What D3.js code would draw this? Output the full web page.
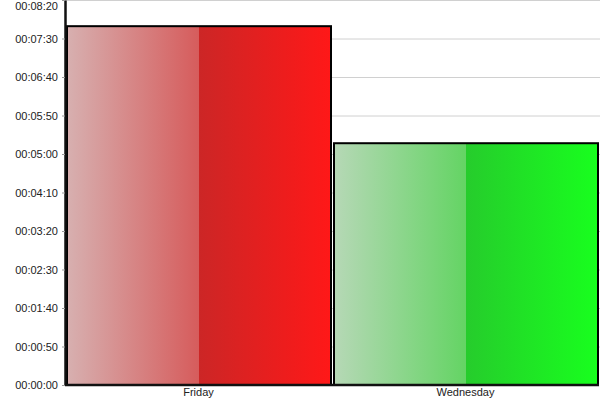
<!DOCTYPE html>
<html>
<head>
  <meta charset="UTF-8">
  <title>Duration by day</title>
  <script src="https://d3js.org/d3.v7.min.js"></script>
  <style>
    body { margin: 0; background: #fff; }
    text { font-family: "Liberation Sans", Arial, sans-serif; font-size: 11px; fill: #222; }
    .grid line { stroke: #d0d0d0; stroke-width: 1; }
    .y.axis .tick line { stroke: #999; }
    .axis path.domain { stroke: #111; stroke-width: 2.5; }
    .bar { stroke: #000; stroke-width: 2; }
  </style>
</head>
<body>
  <div id="chart"></div>
  <script>
    // data (durations in seconds)
    const days = ["Friday", "Wednesday"];
    const durations = [466, 314];
    const tickValues = [0, 50, 100, 150, 200, 250, 300, 350, 400, 450, 500];

    // colour stops per bar: light -> mid | dark -> bright
    const gradientStops = [
      ["rgb(215,176,176)", "rgb(214,92,92)", "rgb(204,38,38)", "rgb(255,24,24)"],
      ["rgb(182,216,182)", "rgb(100,212,100)", "rgb(38,204,44)", "rgb(24,255,30)"]
    ];

    const margin = { top: 0, right: 1, bottom: 15, left: 65 },
      width = 600 - margin.left - margin.right,
      height = 400 - margin.top - margin.bottom;

    const svg = d3.select("#chart")
      .append("svg")
      .attr("width", 600)
      .attr("height", 400);

    const defs = svg.append("defs");
    days.forEach((d, i) => {
      const g = defs.append("linearGradient")
        .attr("id", "grad" + i)
        .attr("x1", "0%").attr("x2", "100%")
        .attr("y1", "0%").attr("y2", "0%");
      const s = gradientStops[i];
      [[0, s[0]], [0.5, s[1]], [0.5, s[2]], [1, s[3]]].forEach(([o, c]) => {
        g.append("stop").attr("offset", o).attr("stop-color", c);
      });
    });

    const chart = svg.append("g")
      .attr("transform", `translate(${margin.left}, ${margin.top})`);

    const x = d3.scaleBand()
      .domain(days)
      .range([0, width])
      .padding(0);

    const y = d3.scaleLinear()
      .domain([0, 500])
      .range([height, 0]);

    const fmt = s => {
      const h = Math.floor(s / 3600), m = Math.floor((s % 3600) / 60), sec = s % 60;
      return [h, m, sec].map(v => String(v).padStart(2, "0")).join(":");
    };

    // gridlines
    chart.append("g")
      .attr("class", "grid")
      .selectAll("line")
      .data(tickValues.slice(1))
      .enter().append("line")
      .attr("x1", 0)
      .attr("x2", width + margin.right)
      .attr("y1", d => y(d) + 0.5)
      .attr("y2", d => y(d) + 0.5);

    // bars
    chart.selectAll(".bar")
      .data(days)
      .enter().append("rect")
      .attr("class", "bar")
      .attr("x", d => x(d) + 2)
      .attr("width", x.bandwidth() - 3)
      .attr("y", (d, i) => y(durations[i]))
      .attr("height", (d, i) => height - y(durations[i]))
      .attr("fill", (d, i) => `url(#grad${i})`);

    // y axis
    const yAxis = chart.append("g")
      .attr("class", "y axis")
      .call(d3.axisLeft(y).tickValues(tickValues).tickFormat(fmt).tickSize(3).tickSizeOuter(0).tickPadding(4));
    yAxis.selectAll(".tick text")
      .attr("dy", d => d === 500 ? "0.9em" : "0.32em");

    // x axis
    const xAxis = chart.append("g")
      .attr("class", "x axis")
      .attr("transform", `translate(0, ${height})`)
      .call(d3.axisBottom(x).tickSize(0).tickSizeOuter(0).tickPadding(3));
    xAxis.select(".domain").attr("d", `M0,0H${width}`);
  </script>
</body>
</html>
